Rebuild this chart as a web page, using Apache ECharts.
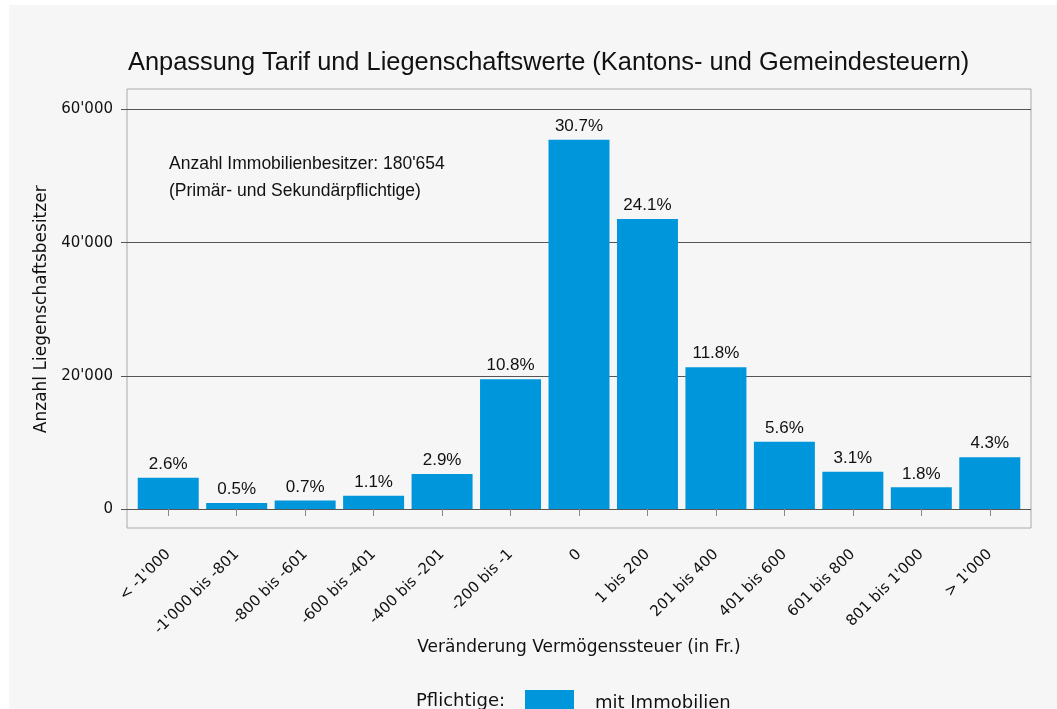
<!DOCTYPE html>
<html lang="de">
<head>
    <meta charset="UTF-8">
    <title>Anpassung Tarif und Liegenschaftswerte</title>
    <script src="https://cdn.jsdelivr.net/npm/echarts@6/dist/echarts.min.js"></script>
    <style>
        html, body {
            margin: 0;
            padding: 0;
            background: #ffffff;
        }
        #main {
            position: absolute;
            left: 9px;
            top: 5px;
            width: 1048px;
            height: 704px;
            background: #f6f6f6;
        }
    </style>
</head>
<body>
<div id="main"></div>
<script type="text/javascript">
    // Kategorien (Veränderung Vermögenssteuer in Fr.)
    const categories = ['< -1\'000', '-1\'000 bis -801', '-800 bis -601', '-600 bis -401', '-400 bis -201',
        '-200 bis -1', '0', '1 bis 200', '201 bis 400', '401 bis 600', '601 bis 800', '801 bis 1\'000', '> 1\'000'];
    // Anzahl Liegenschaftsbesitzer
    const counts = [4700, 900, 1270, 1990, 5240, 19500, 55450, 43550, 21300, 10100, 5600, 3250, 7770];
    // Anteile in Prozent (Beschriftung)
    const shares = ['2.6%', '0.5%', '0.7%', '1.1%', '2.9%', '10.8%', '30.7%', '24.1%', '11.8%', '5.6%', '3.1%', '1.8%', '4.3%'];
    const yTicks = [0, 20000, 40000, 60000];

    const font = 'Liberation Sans, Arial, sans-serif';
    const wide = 'DejaVu Sans, sans-serif';
    const fmt = v => String(v).replace(/\B(?=(\d{3})+(?!\d))/g, "'");

    var myChart = echarts.init(document.getElementById('main'));

    const option = {
        backgroundColor: '#f6f6f6',
        animation: false,
        textStyle: { fontFamily: font },
        title: {
            text: 'Anpassung Tarif und Liegenschaftswerte (Kantons- und Gemeindesteuern)',
            left: 114,
            top: 40,
            textStyle: { fontSize: 25.4, fontWeight: 'normal', color: '#111', fontFamily: font }
        },
        graphic: [
            {
                type: 'text', left: 160, top: 146,
                style: { text: 'Anzahl Immobilienbesitzer: 180\'654\n(Primär- und Sekundärpflichtige)', fontSize: 17.5,
                    lineHeight: 27, fill: '#111', fontFamily: font }
            },
            {
                type: 'text', left: 407, top: 687,
                style: { text: 'Pflichtige:', fontSize: 18, fill: '#111', fontFamily: wide }
            }
        ],
        legend: {
            data: ['mit Immobilien'],
            icon: 'rect',
            left: 516,
            top: 685,
            padding: 0,
            itemWidth: 49,
            itemHeight: 26,
            itemGap: 10,
            textStyle: { fontSize: 18, color: '#111', fontFamily: wide, padding: [4, 0, 0, 16] }
        },
        grid: [
            // Rahmen
            { left: 118, right: 26, top: 84, bottom: 181, show: true, borderColor: '#aaaaaa', borderWidth: 1,
                backgroundColor: 'transparent' },
            // Skala
            { left: 118, right: 26, top: 104.5, bottom: 200 },
            // Daten
            { left: 125, right: 33, top: 104.5, bottom: 200 }
        ],
        xAxis: [
            { gridIndex: 0, type: 'value', show: false },
            { gridIndex: 1, type: 'value', show: false },
            {
                gridIndex: 2,
                type: 'category',
                data: categories,
                offset: 19,
                axisLine: { show: false },
                axisTick: { show: true, alignWithLabel: true, length: 7, lineStyle: { color: '#888' } },
                axisLabel: { rotate: 45, fontSize: 15, color: '#111', margin: 24, interval: 0, fontFamily: wide },
                name: 'Veränderung Vermögenssteuer (in Fr.)',
                nameLocation: 'middle',
                nameGap: 111,
                nameMoveOverlap: false,
                nameTextStyle: { fontSize: 17, color: '#111', fontFamily: wide }
            }
        ],
        yAxis: [
            { gridIndex: 0, type: 'value', show: false },
            {
                gridIndex: 1,
                type: 'value',
                min: yTicks[0],
                max: yTicks[yTicks.length - 1],
                interval: 20000,
                axisLine: { show: false },
                axisTick: { show: true, length: 6, lineStyle: { color: '#555' } },
                axisLabel: { fontSize: 15, color: '#111', margin: 14, formatter: fmt, fontFamily: wide },
                splitLine: { show: true, lineStyle: { color: '#555', width: 1 } },
                name: 'Anzahl Liegenschaftsbesitzer',
                nameLocation: 'middle',
                nameGap: 72,
                nameTextStyle: { fontSize: 17, color: '#111', fontFamily: wide }
            },
            { gridIndex: 2, type: 'value', min: 0, max: 60000, show: false }
        ],
        series: [
            {
                name: 'mit Immobilien',
                type: 'bar',
                xAxisIndex: 2,
                yAxisIndex: 2,
                data: counts,
                barWidth: 61,
                itemStyle: { color: '#0096dc' },
                label: {
                    show: true,
                    position: 'top',
                    distance: 5,
                    fontSize: 17,
                    color: '#111',
                    fontFamily: font,
                    formatter: p => shares[p.dataIndex]
                }
            }
        ]
    };
    myChart.setOption(option);
</script>
</body>
</html>
